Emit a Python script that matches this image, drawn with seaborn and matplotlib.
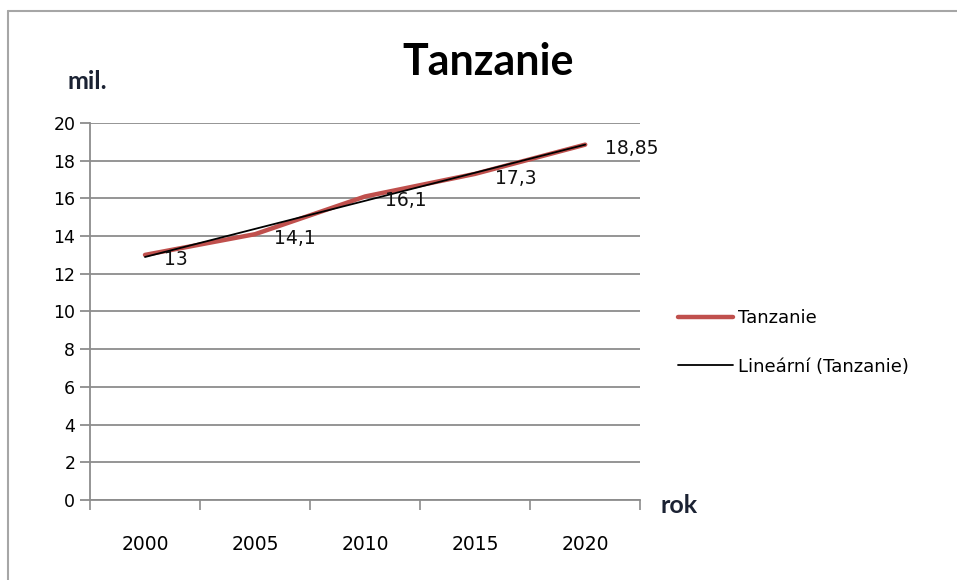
import numpy as np
import pandas as pd
import matplotlib.pyplot as plt
import matplotlib.lines as mlines
import seaborn as sns

# data
years = ["2000", "2005", "2010", "2015", "2020"]
population = [13, 14.1, 16.1, 17.3, 18.85]
value_labels = ["13", "14,1", "16,1", "17,3", "18,85"]

df = pd.DataFrame({"pos": np.arange(len(years)), "rok": years, "mil": population})

sns.set_style("white")
plt.rcParams["font.family"] = ["DejaVu Sans"]
plt.rcParams["text.color"] = "black"
plt.rcParams["xtick.labelcolor"] = "black"
plt.rcParams["ytick.labelcolor"] = "black"

red = "#C0504D"
grid_c = "#8C8C8C"

fig = plt.figure(figsize=(9.57, 5.8), dpi=100)
ax = fig.add_axes([0.094, 0.138, 0.575, 0.650])

# data line
sns.lineplot(data=df, x="pos", y="mil", color=red, linewidth=3.2, ax=ax,
             solid_capstyle="round", zorder=3)

# linear trend (Excel "Lineární")
k, q = np.polyfit(df["pos"], df["mil"], 1)
df["trend"] = k * df["pos"] + q
sns.lineplot(data=df, x="pos", y="trend", color="black", linewidth=1.3, ax=ax, zorder=4)

for x, y, t in zip(df["pos"], df["mil"], value_labels):
    ax.annotate(t, (x, y), xytext=(14, -3), textcoords="offset points",
                ha="left", va="center", fontsize=13.5, color="#111111", zorder=5)

ax.set_xlim(-0.5, len(years) - 0.5)
ax.set_ylim(0, 20)
ax.set_yticks(range(0, 21, 2))
ax.set_xticks(df["pos"])
ax.set_xticklabels(years, fontsize=13.5)
ax.set_xticks(np.arange(-0.5, len(years), 1), minor=True)
ax.tick_params(axis="x", which="major", bottom=False, length=0, pad=25)
ax.tick_params(axis="x", which="minor", bottom=True, length=7, width=1.2,
               color=grid_c, direction="out")
ax.tick_params(axis="y", left=True, length=7, width=1.3, color=grid_c,
               direction="out", labelsize=12.5, pad=3.5)
ax.yaxis.grid(True, color=grid_c, linewidth=1.3)
ax.set_axisbelow(True)
ax.set_xlabel("")
ax.set_ylabel("")
for s in ["top", "right"]:
    ax.spines[s].set_visible(False)
for s in ["left", "bottom"]:
    ax.spines[s].set_color(grid_c)
    ax.spines[s].set_linewidth(1.3)

fig.text(0.510, 0.893, "Tanzanie", ha="center", va="center", fontsize=31,
         fontweight="bold", family="Lato")
fig.text(0.071, 0.860, "mil.", ha="left", va="center", fontsize=18,
         fontweight="bold", family="Lato", color="#1b2233")
fig.text(0.690, 0.128, "rok", ha="left", va="center", fontsize=18,
         fontweight="bold", family="Lato", color="#1b2233")

handles = [mlines.Line2D([], [], color=red, linewidth=3.2),
           mlines.Line2D([], [], color="black", linewidth=1.3)]
fig.legend(handles, ["Tanzanie", "Lineární (Tanzanie)"], loc="center left",
           bbox_to_anchor=(0.692, 0.41), frameon=False, fontsize=13,
           handlelength=3.0, handletextpad=0.3, labelspacing=1.7)

# partial outer frame of the chart area
fig.add_artist(mlines.Line2D([0.008, 1.0], [0.981, 0.981], color="#A6A6A6", linewidth=1.5))
fig.add_artist(mlines.Line2D([0.008, 0.008], [0.0, 0.981], color="#A6A6A6", linewidth=1.5))

fig.savefig("out.png", dpi=100)
plt.close(fig)
